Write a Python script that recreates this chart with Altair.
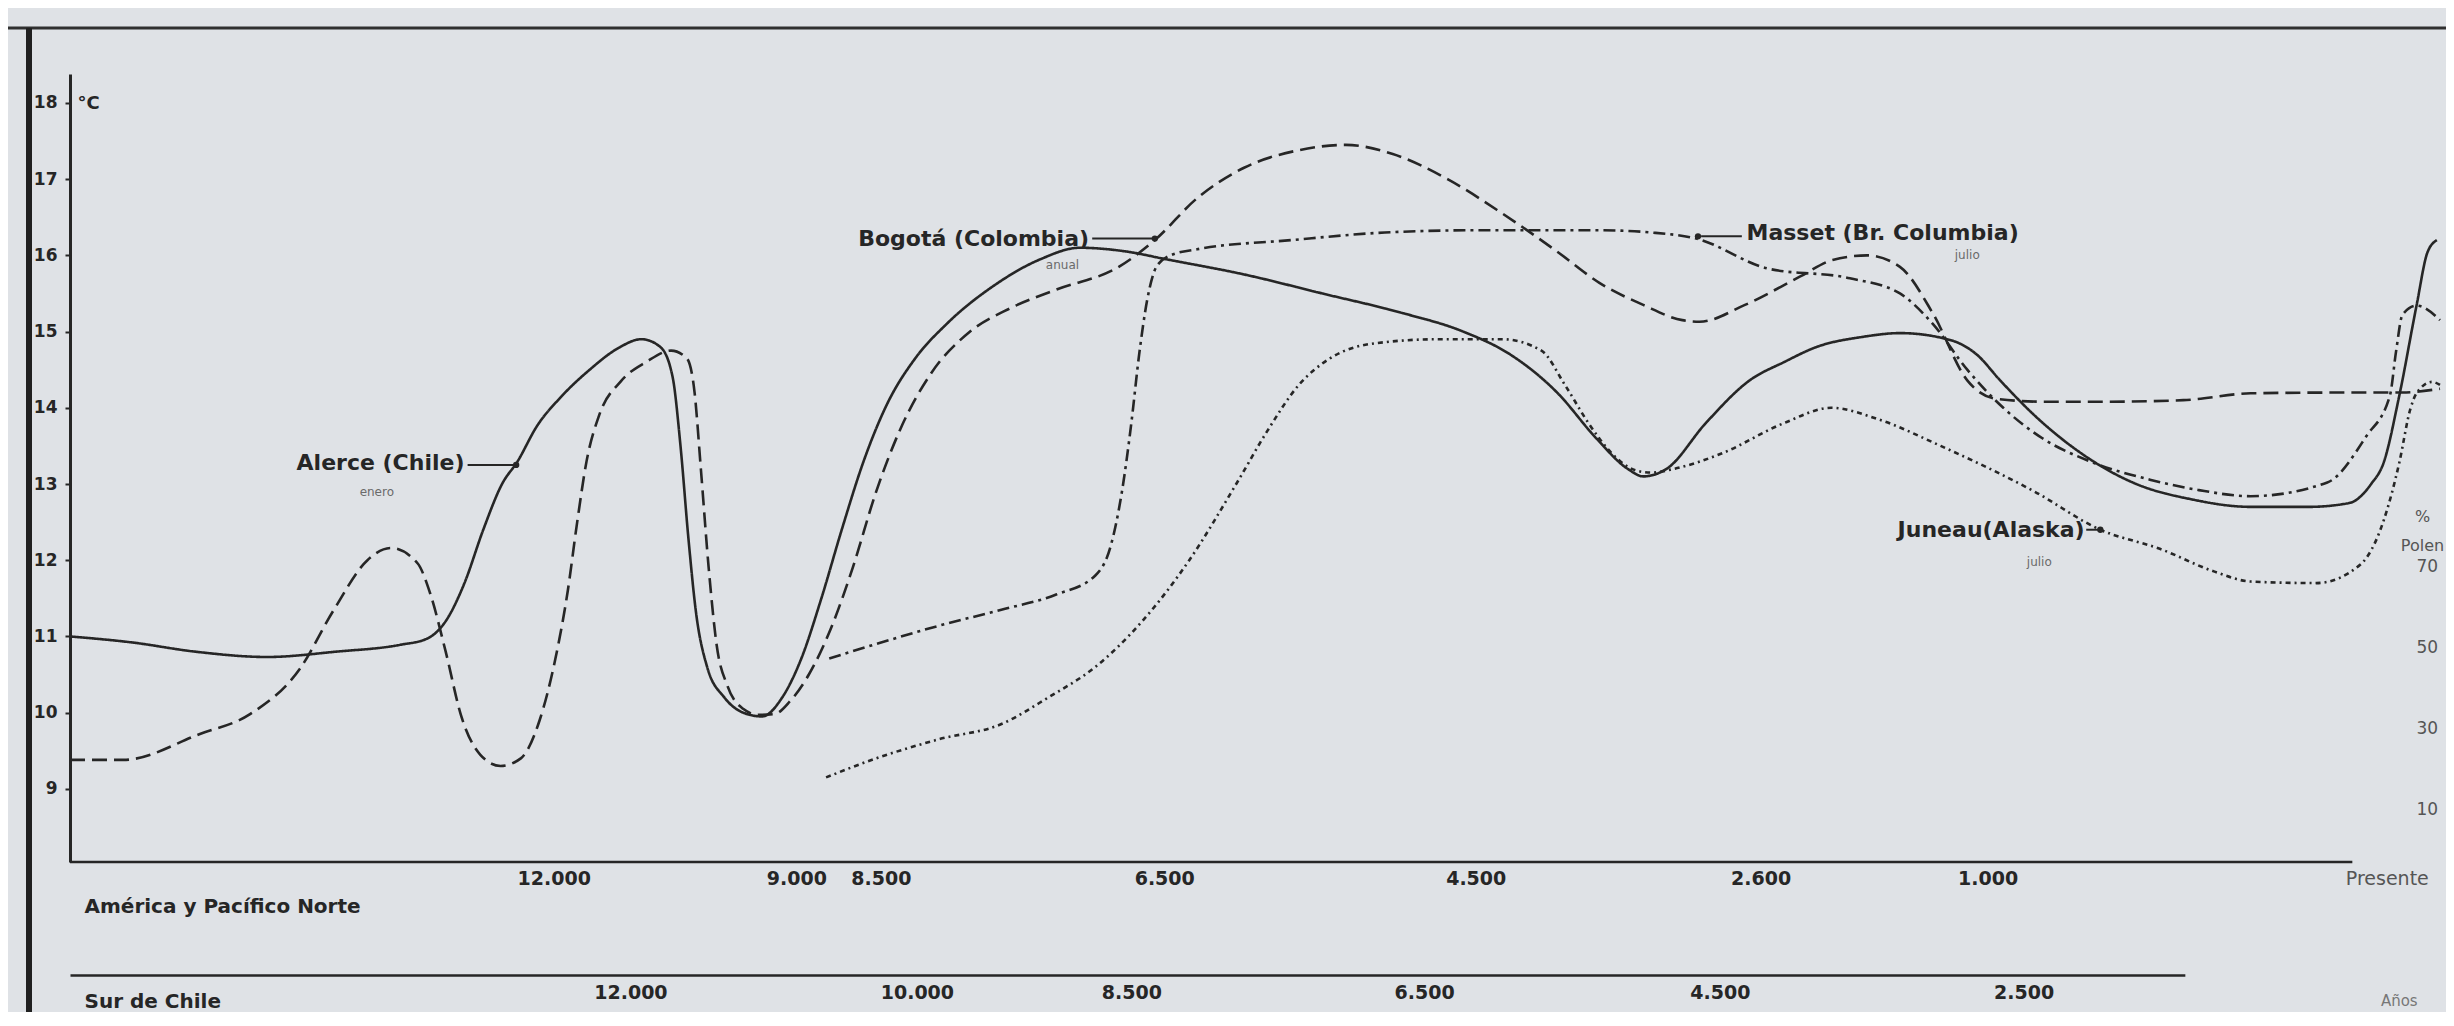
import altair as alt
import pandas as pd

# Horizontal position = place along the hand-drawn (non-linear) time axis of the original,
# 0 = the temperature axis, 1514 = right edge of the drawing.
X_MAX = 1514
Y_MIN, Y_MAX = 8.04, 18.38
W, H = 2370, 788
FONT = "DejaVu Sans"
INK = "#262626"
GREY = "#555555"

# ---- series (position, °C) ----
alerce_pos = [0, 40, 80, 126, 170, 211, 228, 240, 252, 264, 276, 286, 298, 314, 332, 350, 365, 377, 385, 390,
              395, 400, 407, 418, 430, 442, 455, 467, 480, 493, 507, 522, 540, 560, 590, 620, 645, 675, 700, 750,
              800, 850, 890, 920, 950, 975, 995, 1005, 1020, 1045, 1073, 1095, 1116, 1145, 1169, 1201, 1218,
              1233, 1255, 1285, 1320, 1355, 1393, 1430, 1456, 1470, 1478, 1488, 1499, 1506, 1512]
alerce_temp = [11.0, 10.92, 10.8, 10.73, 10.8, 10.89, 10.97, 11.2, 11.7, 12.4, 13.0, 13.3, 13.75, 14.15, 14.5,
               14.78, 14.9, 14.8, 14.4, 13.5, 12.3, 11.3, 10.6, 10.2, 10.0, 9.95, 10.2, 10.7, 11.5, 12.4, 13.3,
               14.05, 14.65, 15.1, 15.6, 15.95, 16.1, 16.05, 15.95, 15.75, 15.5, 15.25, 15.0, 14.7, 14.2, 13.6,
               13.2, 13.1, 13.2, 13.8, 14.36, 14.6, 14.8, 14.93, 14.98, 14.89, 14.7, 14.36, 13.9, 13.4, 13.0,
               12.8, 12.7, 12.7, 12.75, 13.0, 13.28, 14.16, 15.34, 16.04, 16.2]

bogota_pos = [0, 34, 83, 115, 147, 168, 190, 205, 222, 230, 240, 250, 262, 275, 288, 300, 310, 318, 324, 330,
              338, 352, 368, 384, 394, 399, 403, 408, 413, 420, 430, 440, 450, 460, 472, 486, 500, 515, 530, 550,
              575, 600, 630, 670, 693, 720, 750, 785, 815, 845, 880, 915, 950, 977, 1005, 1030, 1041, 1070, 1105,
              1126, 1148, 1169, 1190, 1212, 1230, 1260, 1300, 1350, 1393, 1450, 1490, 1514]
bogota_temp = [9.38, 9.38, 9.72, 9.98, 10.58, 11.33, 12.0, 12.16, 11.96, 11.57, 10.8, 9.95, 9.45, 9.3, 9.4, 9.9,
               10.7, 11.6, 12.5, 13.3, 13.9, 14.35, 14.6, 14.75, 14.65, 14.2, 13.2, 11.9, 10.9, 10.35, 10.05,
               9.97, 9.98, 10.15, 10.5, 11.1, 11.9, 12.9, 13.7, 14.45, 15.0, 15.3, 15.55, 15.85, 16.2, 16.75,
               17.15, 17.38, 17.45, 17.33, 17.0, 16.55, 16.05, 15.64, 15.35, 15.15, 15.13, 15.35, 15.72, 15.94,
               16.0, 15.85, 15.24, 14.36, 14.12, 14.08, 14.08, 14.1, 14.19, 14.2, 14.2, 14.25]

masset_pos = [485, 515, 555, 595, 630, 655, 665, 672, 678, 683, 688, 694, 703, 720, 780, 840, 900, 977, 1010, 1039,
              1084, 1137, 1169, 1190, 1212, 1235, 1260, 1290, 1330, 1360, 1393, 1442, 1467, 1482, 1486, 1490,
              1499, 1514]
masset_temp = [10.71, 10.9, 11.14, 11.35, 11.55, 11.8, 12.2, 12.9, 13.8, 14.7, 15.4, 15.85, 16.0, 16.08, 16.2,
               16.3, 16.33, 16.33, 16.3, 16.22, 15.83, 15.7, 15.5, 15.1, 14.5, 14.0, 13.6, 13.3, 13.05, 12.92,
               12.84, 13.02, 13.63, 14.16, 14.75, 15.22, 15.34, 15.15]

juneau_pos = [483, 515, 555, 595, 625, 655, 685, 715, 745, 765, 785, 805, 835, 875, 915, 940, 955, 970, 985, 1000,
              1010, 1025, 1055, 1095, 1125, 1155, 1195, 1255, 1297, 1335, 1370, 1393, 1435, 1463, 1478, 1488,
              1495, 1499, 1509, 1514]
juneau_temp = [9.15, 9.4, 9.65, 9.85, 10.2, 10.6, 11.2, 12.0, 13.0, 13.7, 14.3, 14.65, 14.85, 14.9, 14.9, 14.75,
               14.3, 13.8, 13.4, 13.18, 13.15, 13.2, 13.4, 13.8, 14.0, 13.85, 13.5, 12.9, 12.4, 12.15, 11.85,
               11.72, 11.7, 11.94, 12.52, 13.28, 13.98, 14.19, 14.34, 14.3]

series_names = ["Alerce (Chile)", "Masset (Br. Columbia)", "Bogotá (Colombia)", "Juneau (Alaska)"]
dash_styles = [[1, 0], [12, 5, 3, 5], [15, 7], [5, 4, 2, 4]]

# ---- axes ----
temp_ticks = [9, 10, 11, 12, 13, 14, 15, 16, 17, 18]
top_tick_pos = [309, 464, 518, 699, 898, 1080, 1225, 1480]
top_tick_lab = ["12.000", "9.000", "8.500", "6.500", "4.500", "2.600", "1.000", "Presente"]
top_axis_end = 1458
chile_tick_pos = [358, 541, 678, 865, 1054, 1248]
chile_tick_lab = ["12.000", "10.000", "8.500", "6.500", "4.500", "2.500"]
chile_axis_end = 1351
polen_ticks = [10, 30, 50, 70]
polen_domain = [-2.84, 191.7]

# ---- labels on the curves ----
lab_right_text = ["Alerce (Chile)", "Bogotá (Colombia)", "Juneau(Alaska)"]
lab_right_pos = [252, 651, 1287]
lab_right_temp = [13.27, 16.22, 12.4]
lab_left_text = ["Masset (Br. Columbia)"]
lab_left_pos = [1071]
lab_left_temp = [16.3]
sub_text = ["enero", "anual", "julio", "julio"]
sub_pos = [196, 634, 1212, 1258]
sub_temp = [12.9, 15.88, 16.0, 11.98]
arrow_from = [254, 653, 1042, 1288]
arrow_to = [285, 693, 1068, 1297]
arrow_temp = [13.25, 16.22, 16.25, 12.4]
arrow_tip = [285, 693, 1040, 1297]


def label_expr(pos, labs):
    expr = "''"
    for p, l in reversed(list(zip(pos, labs))):
        expr = f"datum.value == {p} ? '{l}' : ({expr})"
    return expr


rows = []
for name, xs, ts in [(series_names[0], alerce_pos, alerce_temp), (series_names[1], masset_pos, masset_temp),
                     (series_names[2], bogota_pos, bogota_temp), (series_names[3], juneau_pos, juneau_temp)]:
    for x, t in zip(xs, ts):
        rows.append({"serie": name, "pos": x, "temp": t})
df = pd.DataFrame(rows)

x_main = alt.Scale(domain=[0, X_MAX], nice=False, zero=False)
y_main = alt.Scale(domain=[Y_MIN, Y_MAX], nice=False, zero=False)

top_axis = alt.Axis(
    values=top_tick_pos, labelExpr=label_expr(top_tick_pos, top_tick_lab), ticks=False, domain=False,
    grid=False, labelFont=FONT, labelFontSize=19,
    labelFontWeight={"condition": {"test": "datum.value == 1480", "value": "normal"}, "value": "bold"},
    labelColor={"condition": {"test": "datum.value == 1480", "value": GREY}, "value": INK},
    labelPadding=7, labelOverlap=False, labelFlush=False,
    title="América y Pacífico Norte", titleX=14, titleY=44, titleAlign="left", titleAnchor="start",
    titleBaseline="middle", titleFont=FONT, titleFontSize=20, titleFontWeight="bold", titleColor=INK,
)
y_axis = alt.Axis(
    values=temp_ticks, format="d", tickSize=5, tickWidth=2, tickColor=INK, domainWidth=3, domainColor=INK,
    grid=False, labelPadding=8, labelFont=FONT, labelFontSize=17, labelFontWeight="bold", labelColor=INK,
    title="°C", titleAngle=0, titleX=7, titleY=29, titleAlign="left", titleBaseline="middle",
    titleFont=FONT, titleFontSize=18, titleFontWeight="bold", titleColor=INK,
)

lines = alt.Chart(df).mark_line(interpolate="monotone", strokeWidth=2.6, color=INK).encode(
    x=alt.X("pos:Q", scale=x_main, axis=top_axis),
    y=alt.Y("temp:Q", scale=y_main, axis=y_axis),
    strokeDash=alt.StrokeDash("serie:N", scale=alt.Scale(domain=series_names, range=dash_styles), legend=None),
    detail="serie:N",
)

axis_line = alt.Chart(pd.DataFrame({"pos": [0], "pos2": [top_axis_end]})).mark_rule(
    color=INK, strokeWidth=2.5).encode(
    x=alt.X("pos:Q", scale=x_main), x2="pos2:Q", y=alt.datum(Y_MIN))

frame_top = alt.Chart(pd.DataFrame({"k": [0]})).mark_rule(color="#303030", strokeWidth=3).encode(
    x=alt.value(-62), x2=alt.value(W + 6), y=alt.value(-46))
frame_left = alt.Chart(pd.DataFrame({"k": [0]})).mark_rule(color="#202020", strokeWidth=6).encode(
    x=alt.value(-41), y=alt.value(-46), y2=alt.value(H + 150))

lab_r = alt.Chart(pd.DataFrame({"pos": lab_right_pos, "temp": lab_right_temp, "txt": lab_right_text})).mark_text(
    align="right", baseline="middle", font=FONT, fontSize=22, fontWeight="bold", color=INK).encode(
    x=alt.X("pos:Q", scale=x_main), y=alt.Y("temp:Q", scale=y_main), text="txt:N")
lab_l = alt.Chart(pd.DataFrame({"pos": lab_left_pos, "temp": lab_left_temp, "txt": lab_left_text})).mark_text(
    align="left", baseline="middle", font=FONT, fontSize=22, fontWeight="bold", color=INK).encode(
    x=alt.X("pos:Q", scale=x_main), y=alt.Y("temp:Q", scale=y_main), text="txt:N")
subs = alt.Chart(pd.DataFrame({"pos": sub_pos, "temp": sub_temp, "txt": sub_text})).mark_text(
    align="center", baseline="middle", font=FONT, fontSize=12, color="#6a6a6a").encode(
    x=alt.X("pos:Q", scale=x_main), y=alt.Y("temp:Q", scale=y_main), text="txt:N")
arrows = alt.Chart(pd.DataFrame({"pos": arrow_from, "pos2": arrow_to, "temp": arrow_temp})).mark_rule(
    color=INK, strokeWidth=2).encode(
    x=alt.X("pos:Q", scale=x_main), x2="pos2:Q", y=alt.Y("temp:Q", scale=y_main))
tips = alt.Chart(pd.DataFrame({"pos": arrow_tip, "temp": arrow_temp})).mark_point(
    filled=True, color=INK, size=40, opacity=1).encode(
    x=alt.X("pos:Q", scale=x_main), y=alt.Y("temp:Q", scale=y_main))
anos = alt.Chart(pd.DataFrame({"k": [0]})).mark_text(
    text="Años", align="center", baseline="middle", font=FONT, fontSize=15, color="#777777").encode(
    x=alt.datum(1488, scale=x_main), y=alt.value(H + 139))

inner = alt.layer(frame_top, frame_left, axis_line, lines, arrows, tips, lab_r, lab_l, subs, anos)

chile_axis = alt.Chart(pd.DataFrame({"pos_chile": chile_tick_pos})).mark_point(opacity=0).encode(
    x=alt.X("pos_chile:Q",
            scale=alt.Scale(domain=[0, chile_axis_end], range=[0, chile_axis_end * W / X_MAX],
                            nice=False, zero=False),
            axis=alt.Axis(orient="bottom", offset=113, values=chile_tick_pos,
                          labelExpr=label_expr(chile_tick_pos, chile_tick_lab), ticks=False, domain=True,
                          domainWidth=2.5, domainColor=INK, grid=False, labelFont=FONT, labelFontSize=19,
                          labelFontWeight="bold", labelColor=INK, labelPadding=8, labelOverlap=False,
                          labelFlush=False, title="Sur de Chile", titleX=14, titleY=26, titleAlign="left",
                          titleAnchor="start", titleBaseline="middle", titleFont=FONT, titleFontSize=20,
                          titleFontWeight="bold", titleColor=INK)))

polen_axis = alt.Chart(pd.DataFrame({"polen": polen_ticks})).mark_point(opacity=0).encode(
    y=alt.Y("polen:Q", scale=alt.Scale(domain=polen_domain, nice=False, zero=False),
            axis=alt.Axis(orient="right", offset=-26, values=polen_ticks, ticks=False, domain=False,
                          grid=False, labelPadding=2, labelFont=FONT, labelFontSize=17, labelColor=GREY,
                          title=["%", "Polen"], titleAngle=0, titleX=8, titleY=447, titleAlign="center",
                          titleBaseline="alphabetic", titleFont=FONT, titleFontSize=16,
                          titleFontWeight="normal", titleColor=GREY, titleLineHeight=29)))

chart = alt.layer(inner, chile_axis, polen_axis).resolve_scale(x="independent", y="independent").properties(
    width=W, height=H, background="#dfe2e6",
    padding={"left": 62, "top": 66, "right": 6, "bottom": 150},
    autosize=alt.AutoSizeParams(type="none"),
).configure_view(stroke=None)

chart.save("out.html", embed_options={"renderer": "svg", "actions": False})
